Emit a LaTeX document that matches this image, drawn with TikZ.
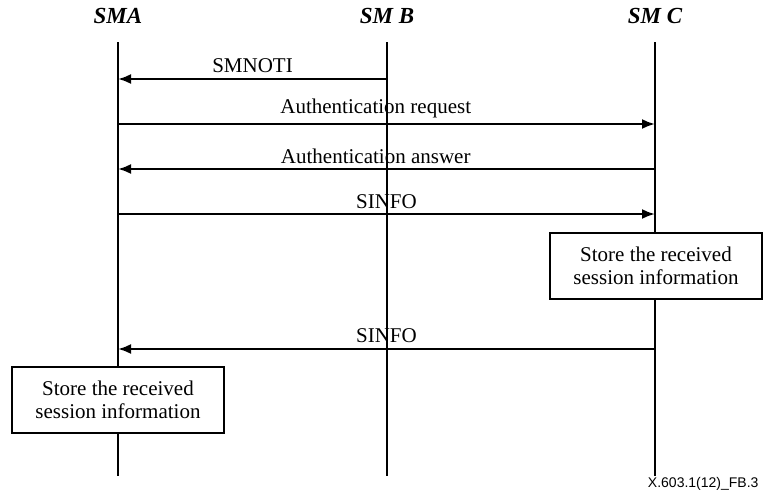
\documentclass[tikz,border=0pt]{standalone}
\usepackage{fontspec}
\setmainfont{Liberation Serif}
\setsansfont{Liberation Sans}
\usetikzlibrary{positioning, arrows.meta}
\tikzstyle{every node}=[font=\fontsize{21}{23}\selectfont]
\tikzstyle{entity}=[font=\fontsize{23}{25}\selectfont\bfseries\itshape]
\tikzstyle{lifeline}=[line width=2.2pt]
\tikzstyle{msg}=[line width=2.2pt,->]
\tikzstyle{block}=[draw,fill=white,rectangle,line width=2.2pt,align=center,minimum width=212pt,minimum height=66pt,inner sep=2pt]

\begin{document}
\begin{tikzpicture}[x=1pt,y=-1pt,>={Latex[length=13pt,width=10pt]}]
            \useasboundingbox (0,0) rectangle (766,501);
            % entities
            \node[entity] (A) at (118,16) {SMA};
            \node[entity] (B) at (387,16) {SM B};
            \node[entity] (C) at (655,16) {SM C};
            \coordinate (Aend) at (118,476);
            \coordinate (Bend) at (387,476);
            \coordinate (Cend) at (655,476);
            \draw[lifeline] (A |- 0,42) -- (Aend);
            \draw[lifeline] (B |- 0,42) -- (Bend);
            \draw[lifeline] (C |- 0,42) -- (Cend);
            % message levels
            \coordinate (m1) at (0,79);
            \coordinate (m2) at (0,124);
            \coordinate (m3) at (0,169);
            \coordinate (m4) at (0,214);
            \coordinate (m5) at (0,349);
            \draw[msg] (B |- m1) -- node[above=2pt] (smnoti) {SMNOTI} (A |- m1);
            \draw[msg] (A |- m2) -- node[above=2pt,pos=0.48] (authreq) {Authentication request} (C |- m2);
            \draw[msg] (C |- m3) -- node[above=1pt,pos=0.52] (authans) {Authentication answer} (A |- m3);
            \draw[msg] (A |- m4) -- node[above=1pt] (sinfo) {SINFO} (C |- m4);
            \draw[msg] (C |- m5) -- node[above=2pt] (sinforet) {SINFO} (A |- m5);
            % local actions
            \node[block] (storeC) at (656,266) {Store the received\\session information};
            \node[block] (storeA) at (118,400) {Store the received\\session information};
            \node[anchor=east,font=\fontsize{14}{16}\selectfont\sffamily] (fig) at (762,484) {X.603.1(12)\_FB.3};
        \end{tikzpicture}
\end{document}
